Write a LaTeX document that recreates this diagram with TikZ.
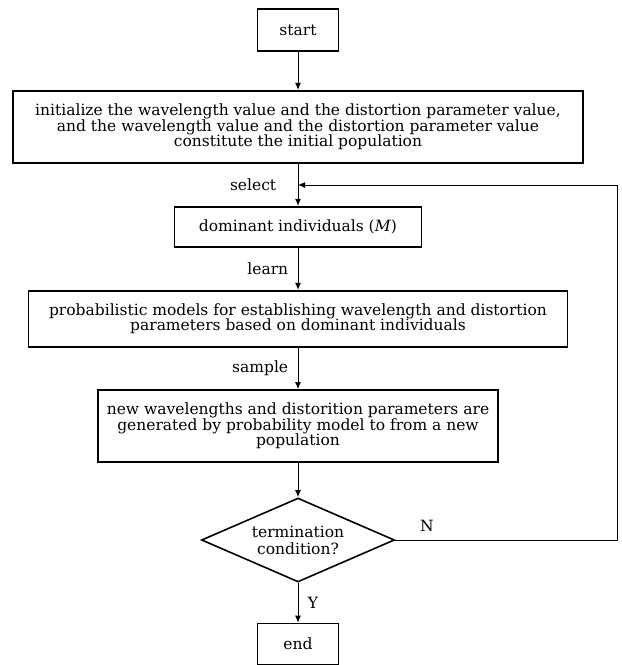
\documentclass[tikz,border=0pt]{standalone}
\usepackage{fontspec}
\setmainfont{DejaVu Serif}
\usetikzlibrary{shapes.geometric,arrows.meta}

\tikzset{
    procbox/.style={draw, line width=1.6pt, align=center, inner sep=1pt,
        font=\fontsize{15.5}{15.5}\selectfont},
    decbox/.style={draw, diamond, line width=1.6pt, align=center, inner sep=0pt,
        minimum width=193pt, minimum height=84pt, aspect=2.3,
        font=\fontsize{15.5}{17}\selectfont},
    flow/.style={line width=1pt, -{Latex[length=7pt,width=6pt]}},
    lbl/.style={font=\fontsize{15.5}{17}\selectfont}
}

\begin{document}
\begin{tikzpicture}[x=1pt,y=-1pt]
        \useasboundingbox (0,0) rectangle (622,665);
		\node[procbox, minimum width=81pt, minimum height=42pt] (start) at (298,30) {start};
		\node[procbox, minimum width=570pt, minimum height=72.5pt] (init) at (298,127)
            {initialize the wavelength value and the distortion parameter value,\\
             and the wavelength value and the distortion parameter value\\
             constitute the initial population};
        \node[procbox, minimum width=247pt, minimum height=40pt] (dom) at (298,226.7)
            {dominant individuals (\textit{M})};
        \node[procbox, minimum width=539pt, minimum height=56pt] (prob) at (298,318.7)
            {probabilistic models for establishing wavelength and distortion\\
             parameters based on dominant individuals};
        \node[procbox, minimum width=400pt, minimum height=72pt] (gen) at (298,426)
            {new wavelengths and distorition parameters are\\
             generated by probability model to from a new\\
             population};
        \node[decbox] (cond) at (298,540) {termination\\condition?};
        \node[procbox, minimum width=81pt, minimum height=41pt] (stop) at (298,644) {end};
        \coordinate (back) at (617,185);
		\draw[flow] (start) -- (init);
		\draw[flow] (init) -- (dom) node[lbl, midway, left=18pt]{select};
		\draw[flow] (dom) -- (prob) node[lbl, midway, left=6pt]{learn};
		\draw[flow] (prob) -- (gen) node[lbl, midway, left=6pt]{sample};
		\draw[flow] (gen) -- (cond);
		\draw[flow] (cond) -- (stop) node[lbl, midway, right=6pt]{Y};
        \draw[flow] (cond.east) -| (back) -- (back -| dom.north);
        \node[lbl] (no) at (427,526) {N};
	\end{tikzpicture}
\end{document}
